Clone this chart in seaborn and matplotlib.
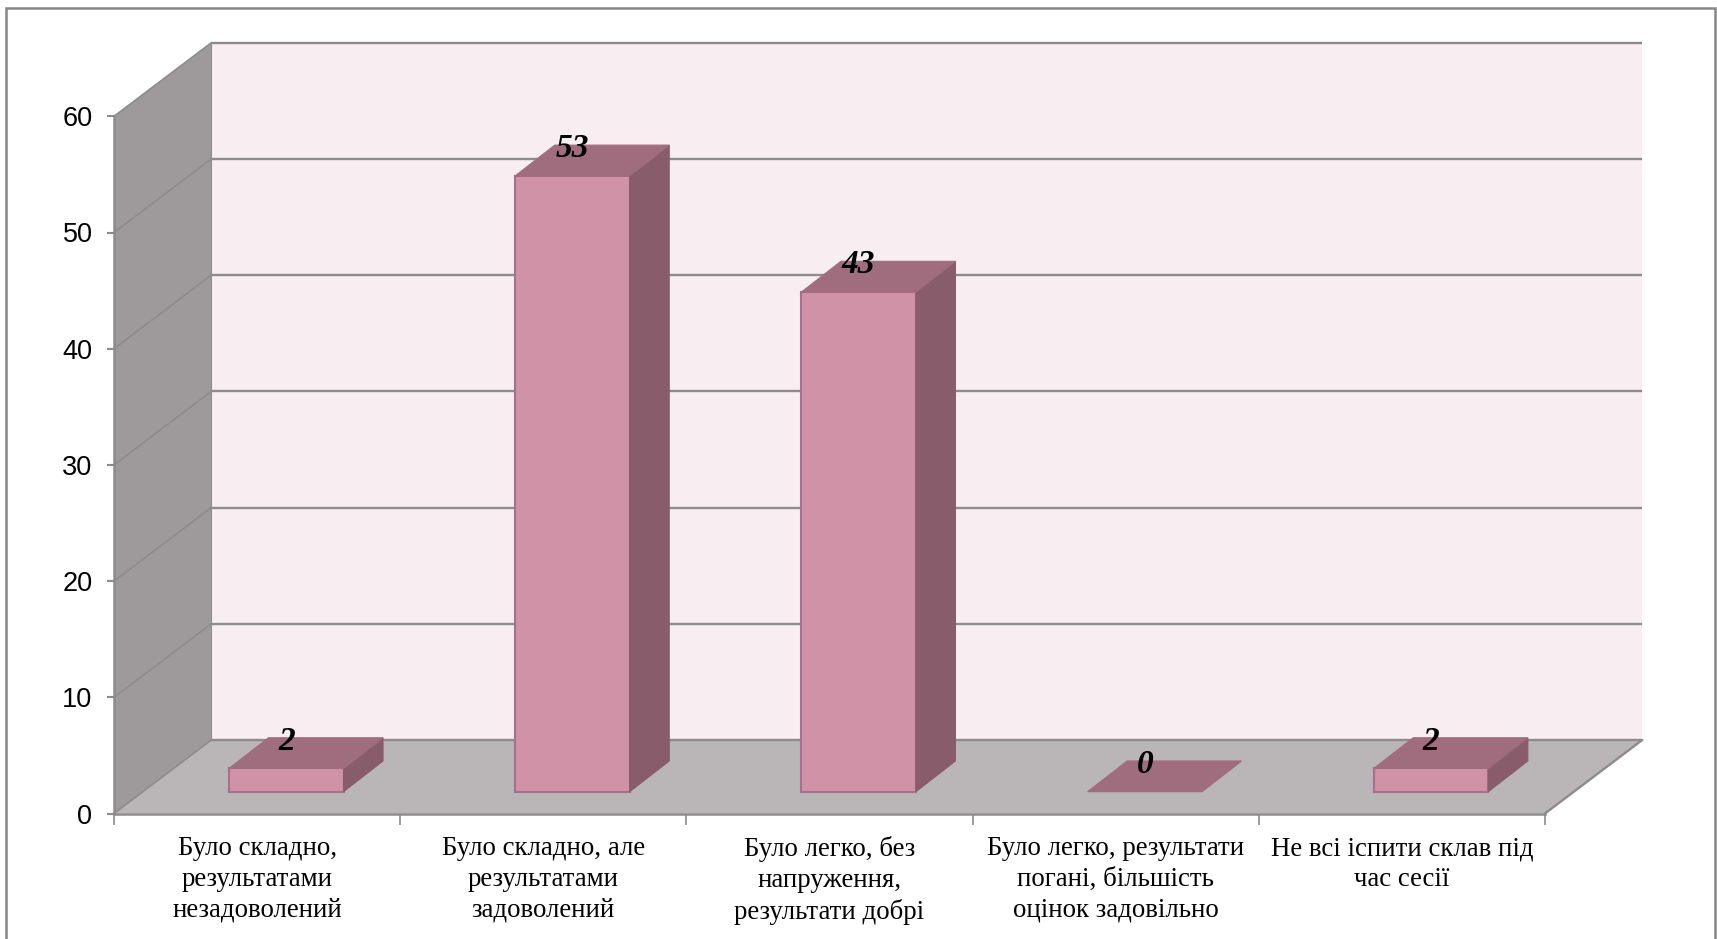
# Recreate 3D-look column chart with seaborn bars

import matplotlib
matplotlib.use("Agg")

import matplotlib.pyplot as plt
import seaborn as sns
from matplotlib.patches import Polygon, Rectangle

# ==========================================
# DATA
# ==========================================

categories = [
    "Було складно,\nрезультатами\nнезадоволений",
    "Було складно, але\nрезультатами\nзадоволений",
    "Було легко, без\nнапруження,\nрезультати добрі",
    "Було легко, результати\nпогані, більшість\nоцінок задовільно",
    "Не всі іспити склав під\nчас сесії",
]
values = [2, 53, 43, 0, 2]
y_ticks = [0, 10, 20, 30, 40, 50, 60]

# ==========================================
# STYLE
# ==========================================

W, H = 1717, 939

# depth of the fake 3D box, in data units
WALL_DX, WALL_DY = 0.34, 6.33
BAR_OFF_DX, BAR_OFF_DY = 0.102, 1.88
BAR_DX, BAR_DY = 0.138, 2.64

C_BACK = "#f8edf1"
C_SIDE = "#9e9a9b"
C_FLOOR = "#bab5b7"
C_GRID = "#8e8b8c"
C_FRONT = "#d092a7"
C_BAR_SIDE = "#885c6b"
C_BAR_TOP = "#9f6d7e"
C_EDGE = "#a6708a"

sns.set_theme(style="white")
plt.rcParams["font.family"] = ["Liberation Sans", "DejaVu Sans"]

fig = plt.figure(figsize=(W / 100, H / 100), dpi=100)
ax = fig.add_axes([114 / W, 1 - 813.5 / H, (1644 - 114) / W, (813.5 - 44) / H])
ax.patch.set_alpha(0)

sns.barplot(
    x=categories,
    y=values,
    color=C_FRONT,
    saturation=1,
    width=0.4,
    edgecolor=C_EDGE,
    linewidth=1.5,
    zorder=3,
    ax=ax,
)

x_left, x_right = -0.5, len(categories) - 0.5
y_top = y_ticks[-1]

ax.set_xlim(x_left, x_left + (1644 - 114) / 286.2)
ax.set_ylim(0, (813.5 - 44) / 11.62)

# ==========================================
# WALLS AND FLOOR
# ==========================================

ax.add_patch(Polygon(
    [(x_left + WALL_DX, WALL_DY), (x_right + WALL_DX, WALL_DY),
     (x_right + WALL_DX, y_top + WALL_DY), (x_left + WALL_DX, y_top + WALL_DY)],
    facecolor=C_BACK, edgecolor="none", zorder=0, clip_on=False
))
ax.add_patch(Polygon(
    [(x_left, 0), (x_left + WALL_DX, WALL_DY),
     (x_left + WALL_DX, y_top + WALL_DY), (x_left, y_top)],
    facecolor=C_SIDE, edgecolor="none", zorder=0, clip_on=False
))
ax.add_patch(Polygon(
    [(x_left, 0), (x_right, 0), (x_right + WALL_DX, WALL_DY), (x_left + WALL_DX, WALL_DY)],
    facecolor=C_FLOOR, edgecolor="none", zorder=0
))

# Gridlines run along the back wall and slant across the side wall

for tick in y_ticks:
    ax.plot(
        [x_left + WALL_DX, x_right + WALL_DX],
        [tick + WALL_DY, tick + WALL_DY],
        color=C_GRID, lw=1.7, zorder=1, solid_capstyle="butt", clip_on=False
    )
    ax.plot(
        [x_left, x_left + WALL_DX],
        [tick, tick + WALL_DY],
        color=C_GRID, lw=1.2, zorder=1, clip_on=False
    )

ax.plot(
    [x_right, x_right + WALL_DX], [0, WALL_DY],
    color=C_GRID, lw=1.7, zorder=1
)
ax.plot(
    [x_left + WALL_DX, x_left + WALL_DX], [WALL_DY, y_top + WALL_DY],
    color=C_GRID, lw=0.8, zorder=1, clip_on=False
)

# ==========================================
# BARS
# ==========================================

for bar, value in zip(ax.patches[:len(values)], values):
    bar.set_x(bar.get_x() + BAR_OFF_DX)
    bar.set_y(BAR_OFF_DY)

    x0 = bar.get_x()
    x1 = x0 + bar.get_width()
    y0 = bar.get_y()
    y1 = y0 + bar.get_height()

    if value > 0:
        ax.add_patch(Polygon(
            [(x1, y0), (x1 + BAR_DX, y0 + BAR_DY), (x1 + BAR_DX, y1 + BAR_DY), (x1, y1)],
            facecolor=C_BAR_SIDE, edgecolor=C_BAR_SIDE, lw=0.8, zorder=3
        ))
    else:
        bar.set_visible(False)

    ax.add_patch(Polygon(
        [(x0, y1), (x1, y1), (x1 + BAR_DX, y1 + BAR_DY), (x0 + BAR_DX, y1 + BAR_DY)],
        facecolor=C_BAR_TOP, edgecolor=C_BAR_TOP, lw=0.8, zorder=3
    ))

    ax.text(
        (x0 + x1) / 2, y1 + BAR_DY - 0.3, str(value),
        ha="center", va="center",
        fontsize=24, fontweight="bold", fontstyle="italic",
        family="Liberation Serif", color="black", zorder=6
    )

# ==========================================
# AXES
# ==========================================

for side in ["top", "right"]:
    ax.spines[side].set_visible(False)

for side in ["left", "bottom"]:
    ax.spines[side].set_color(C_GRID)
    ax.spines[side].set_linewidth(1.8)
    ax.spines[side].set_zorder(2)

ax.spines["left"].set_bounds(0, y_top)
ax.spines["bottom"].set_bounds(x_left, x_right)

ax.set_yticks(y_ticks)
ax.set_yticklabels([str(t) for t in y_ticks], fontsize=19.5, color="black")
ax.tick_params(axis="y", left=True, length=5, width=1.5, color=C_GRID, pad=10.5)

ax.set_xticks(range(len(categories)))
ax.set_xticklabels(
    categories, fontsize=19.4, family="Liberation Serif",
    color="black", linespacing=1.3, ha="center", va="top"
)
ax.set_xticks([x_left + i for i in range(len(categories) + 1)], minor=True)
ax.tick_params(axis="x", which="major", bottom=False, length=0, pad=16.5)
ax.tick_params(axis="x", which="minor", bottom=True, length=8, width=1.2, color=C_GRID)

ax.set_xlabel("")
ax.set_ylabel("")

# Outer frame of the chart object, open at the bottom of the picture

fig.add_artist(Rectangle(
    (6 / W, -10 / H), (1715 - 6) / W, (H + 2) / H,
    transform=fig.transFigure, facecolor="none", edgecolor="#868686", lw=1.8
))

fig.savefig("out.png", dpi=100, facecolor="white")
